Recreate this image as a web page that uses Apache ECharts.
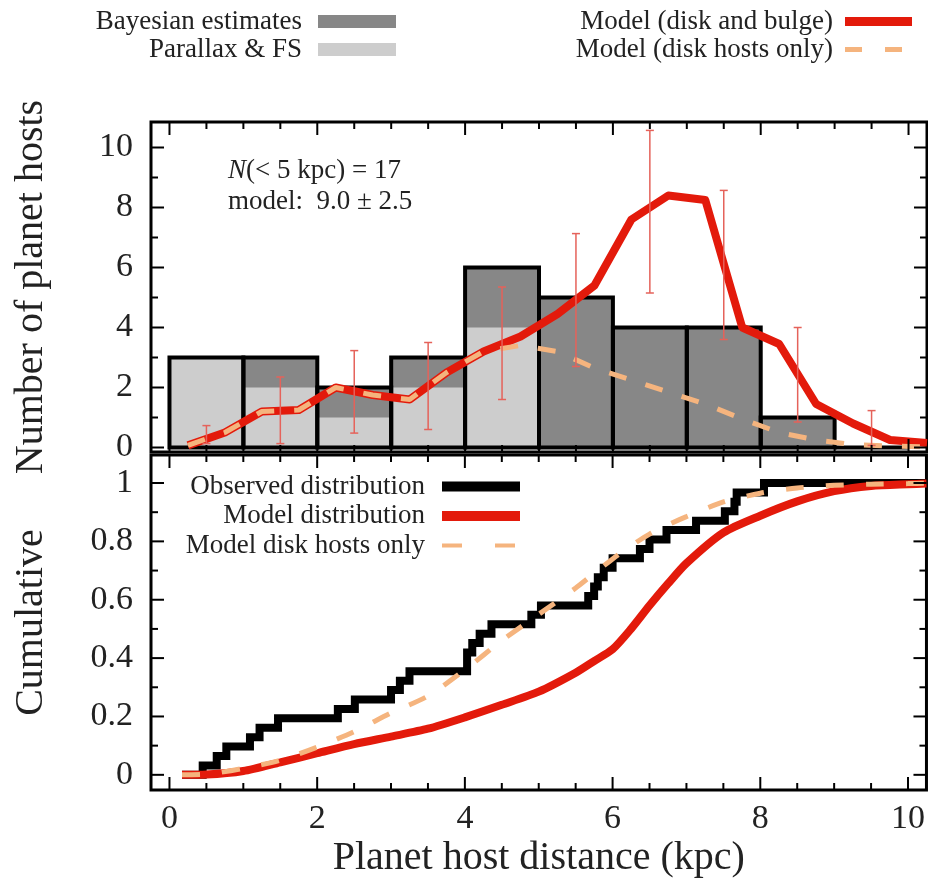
<!DOCTYPE html>
<html>
<head>
<meta charset="utf-8">
<script src="https://cdn.jsdelivr.net/npm/echarts@6/dist/echarts.min.js"></script>
<style>
  html, body { margin: 0; padding: 0; background: #fff; }
  #chart { width: 928px; height: 879px; }
</style>
</head>
<body>
<div id="chart"></div>
<script>
// histogram bins (kpc) and counts
const binStart = [0, 1, 2, 3, 4, 5, 6, 7, 8, 9];
const bayesCounts = [3, 3, 2, 3, 6, 5, 4, 4, 1, 0];
const parallaxCounts = [3, 2, 1, 2, 4, 0, 0, 0, 0, 0];

// model curves in the histogram panel
const modelX = [0.25, 0.75, 1.25, 1.75, 2.25, 2.75, 3.25, 3.75, 4.25, 4.75, 5.25,
  5.75, 6.25, 6.75, 7.25, 7.75, 8.25, 8.75, 9.25, 9.75, 10.25];
const modelDiskBulge = [0.07, 0.5, 1.2, 1.25, 2.0, 1.75, 1.6, 2.5, 3.2, 3.7, 4.45,
  5.4, 7.6, 8.4, 8.25, 4.0, 3.45, 1.45, 0.8, 0.25, 0.15];
const modelDisk = [0.07, 0.5, 1.2, 1.25, 2.0, 1.75, 1.6, 2.5, 3.2, 3.4, 3.2,
  2.65, 2.25, 1.85, 1.45, 0.95, 0.5, 0.25, 0.1, 0.05, 0.02];

// model error bars
const errX = [0.5, 1.5, 2.5, 3.5, 4.5, 5.5, 6.5, 7.5, 8.5, 9.5];
const errLow = [0.13, 0.13, 0.48, 0.6, 1.6, 2.7, 5.15, 3.6, 0.85, 0.07];
const errHigh = [0.73, 2.35, 3.23, 3.5, 5.35, 7.13, 10.57, 8.57, 4.0, 1.23];

// observed host distances (kpc), sorted, for the cumulative panel
const obsDistances = [0.45, 0.64, 0.77, 1.09, 1.22, 1.47, 2.28, 2.51, 3.0, 3.12, 3.25,
  4.03, 4.03, 4.1, 4.2, 4.36, 4.9, 5.03, 5.67, 5.75, 5.8, 5.88, 6.0, 6.37, 6.5, 6.73,
  7.13, 7.52, 7.65, 7.68, 8.05];

// model cumulative distributions
const cumX = [0.17, 0.5, 1.0, 1.5, 2.0, 2.5, 3.0, 3.5, 4.0, 4.5, 5.0, 5.5, 5.75, 6.0,
  6.25, 6.5, 6.75, 7.0, 7.5, 8.0, 8.5, 9.0, 9.5, 10.0, 10.25];
const cumModel = [0, 0.001, 0.013, 0.043, 0.074, 0.105, 0.131, 0.158, 0.197, 0.24, 0.285,
  0.35, 0.39, 0.43, 0.5, 0.58, 0.655, 0.725, 0.83, 0.888, 0.937, 0.972, 0.99, 0.996, 0.998];
const cumDisk = [0, 0.002, 0.022, 0.05, 0.095, 0.148, 0.212, 0.27, 0.36, 0.46, 0.55,
  0.64, 0.69, 0.74, 0.785, 0.825, 0.857, 0.885, 0.935, 0.965, 0.983, 0.992, 0.996, 0.998, 0.999];

// tick labels and tick marks
const xTickLabels = [0, 2, 4, 6, 8, 10];
const countTickLabels = [0, 2, 4, 6, 8, 10];
const cumTickLabels = [0, 0.2, 0.4, 0.6, 0.8, 1];
const xTicks = [0, 0.5, 1, 1.5, 2, 2.5, 3, 3.5, 4, 4.5, 5, 5.5, 6, 6.5, 7, 7.5, 8, 8.5, 9, 9.5, 10];
const countTicks = [0, 1, 2, 3, 4, 5, 6, 7, 8, 9, 10];
const cumTicks = [0, 0.1, 0.2, 0.3, 0.4, 0.5, 0.6, 0.7, 0.8, 0.9, 1];

const FONT = 'Liberation Serif';
const TEXT = '#222';
const DARK = '#878787';
const LIGHT = '#cdcdcd';
const RED = '#e31a0b';
const ORANGE = '#f5b47e';
const ERR = '#e5625a';

const X_MIN = -0.25, X_MAX = 10.25;

const chart = echarts.init(document.getElementById('chart'), null, { renderer: 'canvas' });

const axisBase = (gridIndex, pos, min, max) => ({
	type: 'value', gridIndex, position: pos, min, max,
	splitLine: { show: false }, axisTick: { show: false },
	axisLine: { show: false, onZero: false },
});

const xAxis = [
	Object.assign(axisBase(0, 'bottom', X_MIN, X_MAX), { axisLabel: { show: false } }),
	Object.assign(axisBase(1, 'bottom', X_MIN, X_MAX), {
		axisLabel: { customValues: xTickLabels, margin: 12, color: TEXT, fontFamily: FONT, fontSize: 34 },
		name: 'Planet host distance (kpc)', nameLocation: 'middle', nameGap: 48,
		nameTextStyle: { color: TEXT, fontFamily: FONT, fontSize: 40 },
	}),
];

const yAxis = [
	Object.assign(axisBase(0, 'left', -0.15, 10.85), {
		axisLabel: { customValues: countTickLabels, margin: 18, color: TEXT, fontFamily: FONT, fontSize: 34 },
		name: 'Number of planet hosts', nameLocation: 'middle', nameGap: 100,
		nameTextStyle: { color: TEXT, fontFamily: FONT, fontSize: 40 },
	}),
	Object.assign(axisBase(1, 'left', -0.052, 1.096), {
		axisLabel: {
			customValues: cumTickLabels, margin: 18, color: TEXT, fontFamily: FONT, fontSize: 34,
			formatter: (v) => String(+(+v).toFixed(1)),
		},
		name: 'Cumulative', nameLocation: 'middle', nameGap: 100,
		nameTextStyle: { color: TEXT, fontFamily: FONT, fontSize: 40 },
	}),
];

// inward tick marks on all four sides of a panel, placed through the axis scales
// item: [dim (0 = x, 1 = y), value, major flag]
const tickItems = (xs, xMajor, ys, yMajor) =>
	xs.map((v) => [0, v, xMajor.includes(v) ? 1 : 0])
		.concat(ys.map((v) => [1, v, yMajor.includes(v) ? 1 : 0]));

const renderTicks = (params, api) => {
	const cs = params.coordSys;
	const dim = api.value(0), v = api.value(1);
	const len = api.value(2) ? 13 : 7;
	const st = { stroke: '#000', lineWidth: 2 };
	if (dim === 0) {
		const x = api.coord([v, 0])[0];
		const yb = cs.y + cs.height, yt = cs.y;
		return {
			type: 'group', children: [
				{ type: 'line', shape: { x1: x, y1: yb, x2: x, y2: yb - len }, style: st },
				{ type: 'line', shape: { x1: x, y1: yt, x2: x, y2: yt + len }, style: st },
			],
		};
	}
	const y = api.coord([0, v])[1];
	const xl = cs.x, xr = cs.x + cs.width;
	return {
		type: 'group', children: [
			{ type: 'line', shape: { x1: xl, y1: y, x2: xl + len, y2: y }, style: st },
			{ type: 'line', shape: { x1: xr, y1: y, x2: xr - len, y2: y }, style: st },
		],
	};
};

// histogram rectangles through the axis scale
const barRect = (fill, stroke) => (params, api) => {
	const x0 = api.value(0), x1 = api.value(1), h = api.value(2);
	const p0 = api.coord([x0, 0]);
	const p1 = api.coord([x1, h]);
	return {
		type: 'rect',
		shape: { x: p0[0], y: p1[1], width: p1[0] - p0[0], height: p0[1] - p1[1] },
		style: stroke
			? { fill: 'none', stroke: '#000', lineWidth: 4 }
			: { fill, stroke: 'none' },
	};
};

const bayesData = binStart.map((b, i) => [b, b + 1, bayesCounts[i]]);
const parallaxData = binStart.map((b, i) => [b, b + 1, parallaxCounts[i]]);
const errData = errX.map((x, i) => [x, errLow[i], errHigh[i]]);
const N = obsDistances.length;
const obsData = [[cumX[0], 0]]
	.concat(obsDistances.map((d, i) => [d, (i + 1) / N]))
	.concat([[X_MAX, 1]]);

const series = [
	{
		name: 'Bayesian estimates', type: 'custom', xAxisIndex: 0, yAxisIndex: 0,
		itemStyle: { color: DARK }, renderItem: barRect(DARK), data: bayesData,
		encode: { x: [0, 1], y: 2 }, z: 1,
	},
	{
		name: 'Parallax & FS', type: 'custom', xAxisIndex: 0, yAxisIndex: 0,
		itemStyle: { color: LIGHT }, renderItem: barRect(LIGHT), data: parallaxData,
		encode: { x: [0, 1], y: 2 }, z: 2,
	},
	{
		name: 'histogram outline', type: 'custom', xAxisIndex: 0, yAxisIndex: 0,
		renderItem: barRect(null, true), data: bayesData,
		encode: { x: [0, 1], y: 2 }, z: 3,
	},
	{
		name: 'Model (disk and bulge)', type: 'line', xAxisIndex: 0, yAxisIndex: 0,
		data: modelX.map((x, i) => [x, modelDiskBulge[i]]),
		symbol: 'none', lineStyle: { color: RED, width: 8, join: 'round' },
		itemStyle: { color: RED }, z: 4,
	},
	{
		name: 'Model (disk hosts only)', type: 'line', xAxisIndex: 0, yAxisIndex: 0,
		data: modelX.map((x, i) => [x, modelDisk[i]]),
		symbol: 'none', lineStyle: { color: ORANGE, width: 5, type: [18, 20] },
		itemStyle: { color: ORANGE }, z: 5,
	},
	{
		name: 'model errors', type: 'custom', xAxisIndex: 0, yAxisIndex: 0,
		data: errData, encode: { x: 0, y: [1, 2] }, z: 6,
		renderItem: (params, api) => {
			const lo = api.coord([api.value(0), api.value(1)]);
			const hi = api.coord([api.value(0), api.value(2)]);
			const cap = 4;
			const st = { stroke: ERR, lineWidth: 1.5 };
			return {
				type: 'group',
				children: [
					{ type: 'line', shape: { x1: lo[0], y1: lo[1], x2: hi[0], y2: hi[1] }, style: st },
					{ type: 'line', shape: { x1: lo[0] - cap, y1: lo[1], x2: lo[0] + cap, y2: lo[1] }, style: st },
					{ type: 'line', shape: { x1: hi[0] - cap, y1: hi[1], x2: hi[0] + cap, y2: hi[1] }, style: st },
				],
			};
		},
	},
	{
		name: 'ticks top panel', type: 'custom', xAxisIndex: 0, yAxisIndex: 0,
		data: tickItems(xTicks, xTickLabels, countTicks, countTickLabels),
		renderItem: renderTicks, silent: true, z: 7,
	},
	{
		name: 'Observed distribution', type: 'line', xAxisIndex: 1, yAxisIndex: 1,
		data: obsData, step: 'end', symbol: 'none',
		lineStyle: { color: '#000', width: 8, join: 'miter' }, itemStyle: { color: '#000' }, z: 3,
	},
	{
		name: 'Model distribution', type: 'line', xAxisIndex: 1, yAxisIndex: 1,
		data: cumX.map((x, i) => [x, cumModel[i]]), symbol: 'none', smooth: 0.25,
		lineStyle: { color: RED, width: 8 }, itemStyle: { color: RED }, z: 4,
	},
	{
		name: 'Model disk hosts only', type: 'line', xAxisIndex: 1, yAxisIndex: 1,
		data: cumX.map((x, i) => [x, cumDisk[i]]), symbol: 'none', smooth: 0.25,
		lineStyle: { color: ORANGE, width: 5, type: [18, 22] }, itemStyle: { color: ORANGE }, z: 5,
	},
	{
		name: 'ticks bottom panel', type: 'custom', xAxisIndex: 1, yAxisIndex: 1,
		data: tickItems(xTicks, xTickLabels, cumTicks, cumTickLabels),
		renderItem: renderTicks, silent: true, z: 7,
	},
];

const legendText = (w, padRight) => ({
	color: TEXT, fontFamily: FONT, fontSize: 27, width: w, align: 'right',
	lineHeight: 20, padding: [0, padRight, 0, 0],
});

// hide the symbol that line legends put in the middle of the icon
const noSymbol = { opacity: 0, color: 'rgba(0,0,0,0)', borderWidth: 0 };

const option = {
	animation: false,
	backgroundColor: '#fff',
	grid: [
		{ left: 151, right: 1, top: 122, height: 330, show: true, borderColor: '#000', borderWidth: 3, backgroundColor: 'transparent' },
		{ left: 151, right: 1, top: 455, height: 335, show: true, borderColor: '#000', borderWidth: 3, backgroundColor: 'transparent' },
	],
	xAxis,
	yAxis,
	legend: [
		{
			orient: 'vertical', align: 'right', left: 62, top: 8, padding: 0,
			itemWidth: 78, itemHeight: 13, itemGap: 1, selectedMode: false,
			textStyle: legendText(240, 11),
			data: [{ name: 'Bayesian estimates', icon: 'rect' }, { name: 'Parallax & FS', icon: 'rect' }],
		},
		{
			orient: 'vertical', align: 'right', left: 523, top: 8, padding: 0,
			itemWidth: 67, itemHeight: 14, itemGap: 1, selectedMode: false,
			textStyle: legendText(310, 7), itemStyle: noSymbol,
			data: [
				{ name: 'Model (disk and bulge)', lineStyle: { width: 9 } },
				{ name: 'Model (disk hosts only)', lineStyle: { width: 5, type: [17, 23] } },
			],
		},
		{
			orient: 'vertical', align: 'right', left: 145, top: 473, padding: 0,
			itemWidth: 78, itemHeight: 14, itemGap: 2.5, selectedMode: false,
			textStyle: legendText(280, 12), itemStyle: noSymbol,
			data: [
				{ name: 'Observed distribution', lineStyle: { width: 10 } },
				{ name: 'Model distribution', lineStyle: { width: 10 } },
				{ name: 'Model disk hosts only', lineStyle: { width: 4, type: [20, 33] } },
			],
		},
	],
	graphic: [
		{
			type: 'text', left: 228, top: 157,
			style: {
				text: '{i|N}(< 5 kpc) = 17', fill: TEXT, fontFamily: FONT, fontSize: 27,
				rich: { i: { fontStyle: 'italic', fontFamily: FONT, fontSize: 27, fill: TEXT } },
			},
		},
		{
			type: 'text', left: 228, top: 188,
			style: { text: 'model:  9.0 ± 2.5', fill: TEXT, fontFamily: FONT, fontSize: 27 },
		},
	],
	series,
};

option && chart.setOption(option);
</script>
</body>
</html>
